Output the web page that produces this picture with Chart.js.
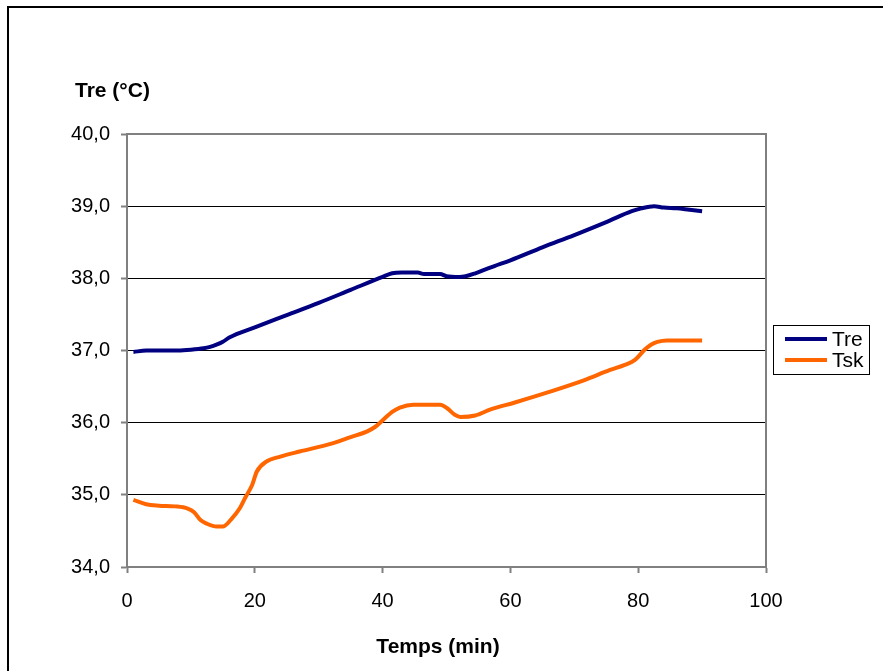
<!DOCTYPE html>
<html>
<head>
<meta charset="utf-8">
<script src="https://cdn.jsdelivr.net/npm/chart.js@4.4.1/dist/chart.umd.min.js"></script>
<style>
  html, body { margin: 0; padding: 0; background: #fff; }
  #wrap { position: relative; width: 883px; height: 671px; }
</style>
</head>
<body>
<div id="wrap"><canvas id="tempChart" width="883" height="671"></canvas></div>
<script>
// minutes and temperatures
const treMinutes = [1, 3, 8, 10, 12, 13, 14, 15, 16, 20, 25, 30, 35, 40, 41.5, 43, 45.5, 46.5, 49, 50, 52, 53, 54.5, 56, 57.5, 60, 65, 70, 75, 79, 80.5, 82.5, 84, 86, 88, 90];
const treValues  = [36.98, 37.00, 37.00, 37.01, 37.03, 37.05, 37.08, 37.12, 37.18, 37.32, 37.49, 37.66, 37.84, 38.02, 38.07, 38.08, 38.08, 38.06, 38.06, 38.03, 38.02, 38.03, 38.07, 38.12, 38.17, 38.25, 38.43, 38.60, 38.78, 38.93, 38.97, 39.00, 38.98, 38.97, 38.95, 38.93];

const tskMinutes = [1, 3, 5, 7.5, 9.5, 10.5, 11.5, 12.5, 14, 15, 16.3, 17.7, 18.5, 19.6, 20.3, 21.8, 24, 27, 32, 35, 37.6, 38.8, 39.6, 41.5, 42.7, 44.8, 49, 50.1, 51.3, 52.2, 54.5, 56.8, 60.7, 66.2, 71.6, 75.6, 77.9, 79.5, 81, 82, 83, 84.5, 90];
const tskValues  = [34.93, 34.87, 34.85, 34.84, 34.81, 34.76, 34.65, 34.60, 34.56, 34.56, 34.66, 34.82, 34.96, 35.14, 35.32, 35.46, 35.53, 35.60, 35.71, 35.80, 35.88, 35.94, 36.00, 36.15, 36.21, 36.25, 36.25, 36.20, 36.11, 36.08, 36.10, 36.18, 36.28, 36.43, 36.59, 36.73, 36.80, 36.87, 37.01, 37.08, 37.12, 37.14, 37.14];

const seriesNames = ['Tre', 'Tsk'];
const seriesColors = ['#000080', '#FF6600'];
const xTitle = 'Temps (min)';
const yTitle = 'Tre (°C)';

const toPoints = (xs, ys) => xs.map((x, i) => ({ x: x, y: ys[i] }));

const FONT = '"Liberation Sans", Arial, sans-serif';

// frame, axis titles, plot border and the boxed legend (Excel look)
const decorPlugin = {
    id: 'decor',
    beforeDraw(chart) {
        const ctx = chart.ctx;
        ctx.save();
        ctx.fillStyle = '#000';
        ctx.fillRect(7, 6, 900, 2);
        ctx.fillRect(7, 6, 2, 700);
        ctx.restore();
    },
    afterDraw(chart) {
        const ctx = chart.ctx;
        const a = chart.chartArea;
        ctx.save();
        // plot area border
        ctx.strokeStyle = '#808080';
        ctx.lineWidth = 2;
        ctx.strokeRect(a.left, a.top, a.right - a.left, a.bottom - a.top);

        // axis titles
        ctx.fillStyle = '#000';
        ctx.font = 'bold 21px ' + FONT;
        ctx.textBaseline = 'middle';
        ctx.textAlign = 'left';
        ctx.fillText(yTitle, 75, 91);
        ctx.textAlign = 'center';
        ctx.fillText(xTitle, 438, 647);

        // legend
        ctx.lineWidth = 1;
        ctx.strokeStyle = '#000';
        ctx.strokeRect(773.5, 325.5, 96, 49);
        ctx.font = '21px ' + FONT;
        ctx.textAlign = 'left';
        const rows = [339, 360];
        seriesNames.forEach((name, i) => {
            ctx.strokeStyle = seriesColors[i];
            ctx.lineWidth = 4;
            ctx.beginPath();
            ctx.moveTo(785, rows[i]);
            ctx.lineTo(827, rows[i]);
            ctx.stroke();
            ctx.fillStyle = '#000';
            ctx.fillText(name, 832, rows[i] + 1);
        });
        ctx.restore();
    }
};

const ctx = document.getElementById('tempChart').getContext('2d');
new Chart(ctx, {
    type: 'line',
    data: {
        datasets: [
            {
                label: seriesNames[0],
                data: toPoints(treMinutes, treValues),
                borderColor: seriesColors[0],
                borderWidth: 4,
                pointRadius: 0,
                tension: 0.3,
                cubicInterpolationMode: 'monotone'
            },
            {
                label: seriesNames[1],
                data: toPoints(tskMinutes, tskValues),
                borderColor: seriesColors[1],
                borderWidth: 4,
                pointRadius: 0,
                tension: 0.3,
                cubicInterpolationMode: 'monotone'
            }
        ]
    },
    options: {
        responsive: false,
        animation: false,
        layout: { padding: { top: 134, right: 117, left: 0, bottom: 0 } },
        plugins: { legend: { display: false }, tooltip: { enabled: false } },
        scales: {
            x: {
                type: 'linear',
                min: 0,
                max: 100,
                afterFit: s => { s.height = 104; },
                ticks: { stepSize: 20, color: '#000', padding: 16, maxRotation: 0, font: { family: FONT, size: 20 } },
                grid: { drawOnChartArea: false, tickLength: 6, tickColor: '#808080', tickWidth: 2 },
                border: { color: '#808080', width: 2 }
            },
            y: {
                min: 34,
                max: 40,
                afterFit: s => { s.width = 127; },
                ticks: {
                    stepSize: 1,
                    color: '#000',
                    padding: 11,
                    font: { family: FONT, size: 20 },
                    callback: v => v.toFixed(1).replace('.', ',')
                },
                grid: { color: '#000', lineWidth: 1, tickLength: 6, tickColor: '#808080', tickWidth: 2 },
                border: { color: '#808080', width: 2 }
            }
        }
    },
    plugins: [decorPlugin]
});
</script>
</body>
</html>
